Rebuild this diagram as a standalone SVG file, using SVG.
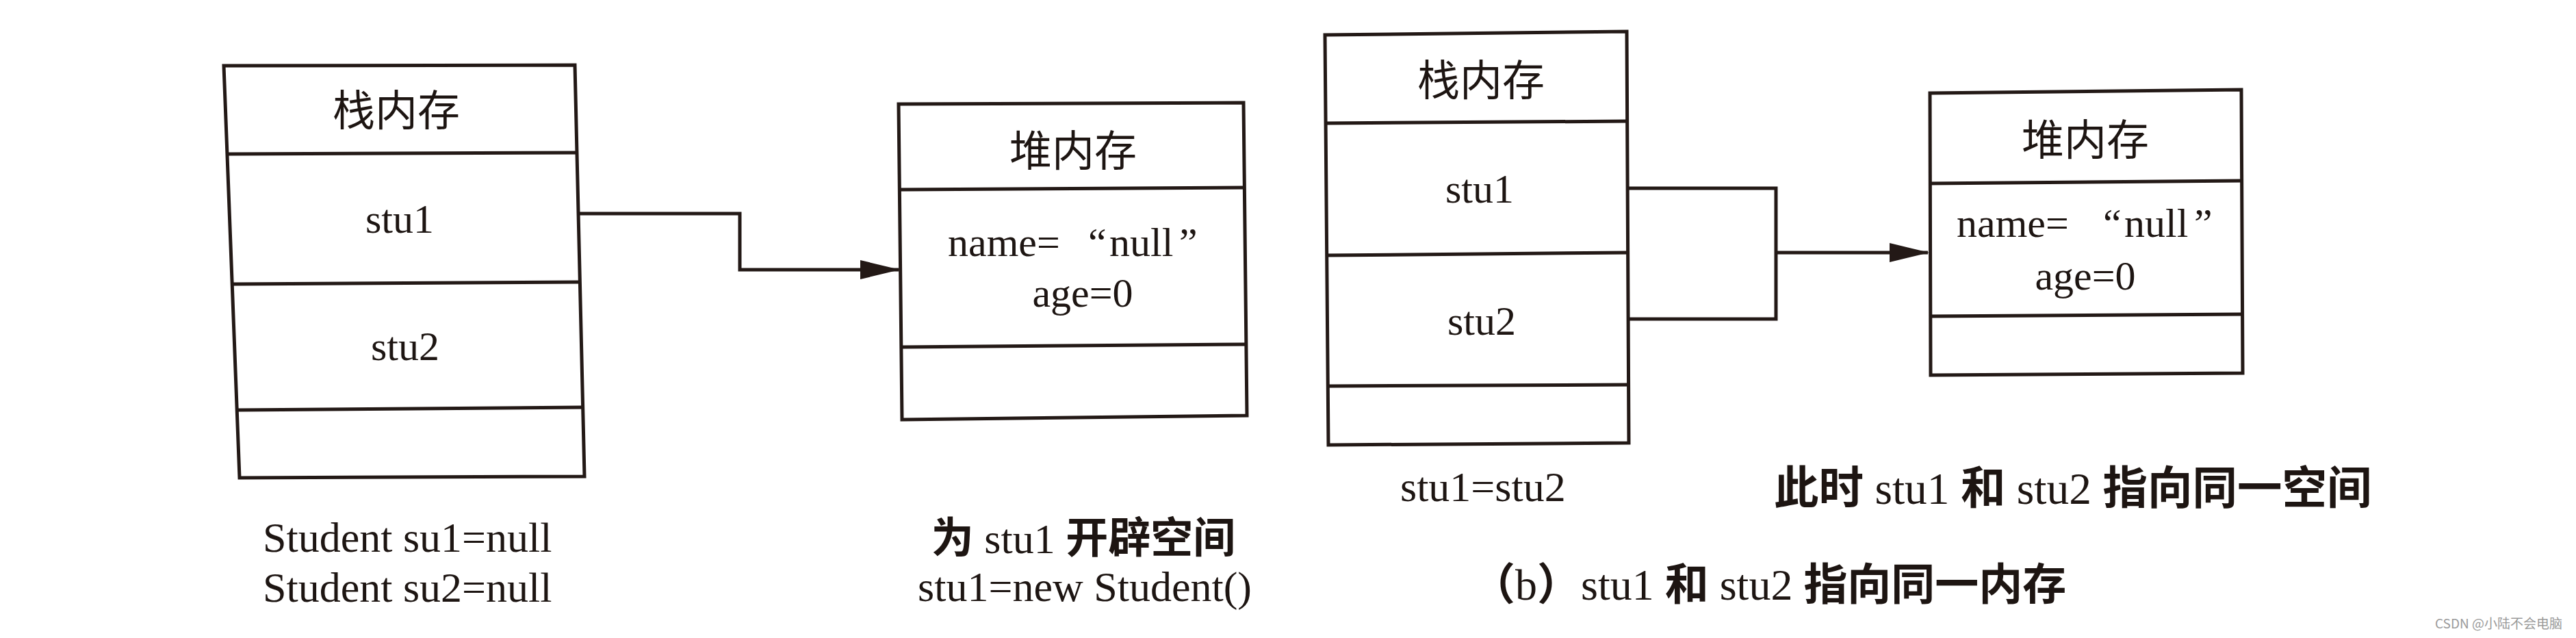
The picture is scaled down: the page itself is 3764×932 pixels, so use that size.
<svg xmlns="http://www.w3.org/2000/svg" width="3764" height="932" viewBox="0 0 3764 932">
<style>
.box{fill:#ffffff;stroke:#231916;stroke-width:5;stroke-linejoin:miter}
.dv{stroke:#231916;stroke-width:5;fill:none}
.conn{fill:none;stroke:#231916;stroke-width:5}
.ttl{font-family:"Noto Sans CJK SC",sans-serif;font-size:62px;fill:#1d1512;text-anchor:middle}
.lat{font-family:"Liberation Serif","Noto Sans CJK SC",serif;font-size:60px;fill:#1d1512}
.mid{text-anchor:middle}
.cap{font-family:"Liberation Serif","Noto Sans CJK SC",serif;font-size:62px;fill:#1d1512}
.b{font-family:"Noto Sans CJK SC",sans-serif;font-weight:700}
.wm{font-family:"Noto Sans CJK SC",sans-serif;font-size:19px;fill:#9a9a9a}
</style>
<defs>
<marker id="arr" markerUnits="userSpaceOnUse" markerWidth="58" markerHeight="28" refX="56" refY="14" orient="auto">
<path d="M0,0 L58,14 L0,28 Z" fill="#231916"/>
</marker>
</defs>
<rect x="0" y="0" width="3764" height="932" fill="#ffffff"/>

<g id="stack1">
<polygon class="box" points="327,96 840,95 854,696 350,698"/>
<line class="dv" x1="332" y1="225" x2="843" y2="223"/>
<line class="dv" x1="339" y1="415" x2="848" y2="412"/>
<line class="dv" x1="346" y1="599" x2="852" y2="595"/>
<text class="ttl" x="579" y="184">栈内存</text>
<text class="lat mid" x="584" y="340">stu1</text>
<text class="lat mid" x="592" y="526">stu2</text>
</g>

<g id="heap1">
<polygon class="box" points="1313,152 1817,150 1822,607 1318,613"/>
<line class="dv" x1="1314" y1="277" x2="1818" y2="274"/>
<line class="dv" x1="1317" y1="507" x2="1821" y2="503"/>
<text class="ttl" x="1568" y="243">堆内存</text>
<text class="lat" y="374"><tspan x="1385">name=</tspan><tspan x="1590">“</tspan><tspan x="1621">null</tspan><tspan x="1723">”</tspan></text>
<text class="lat mid" x="1582" y="448">age=0</text>
</g>

<g id="stack2">
<polygon class="box" points="1936,51 2377,46 2380,647 1941,650"/>
<line class="dv" x1="1937" y1="180" x2="2378" y2="177"/>
<line class="dv" x1="1939" y1="373" x2="2379" y2="369"/>
<line class="dv" x1="1940" y1="564" x2="2380" y2="562"/>
<text class="ttl" x="2164" y="140">栈内存</text>
<text class="lat mid" x="2162" y="296">stu1</text>
<text class="lat mid" x="2165" y="489">stu2</text>
</g>

<g id="heap2">
<polygon class="box" points="2820,136 3275,131 3277,545 2821,548"/>
<line class="dv" x1="2820" y1="268" x2="3276" y2="264"/>
<line class="dv" x1="2821" y1="462" x2="3277" y2="459"/>
<text class="ttl" x="3047" y="227">堆内存</text>
<text class="lat" y="346"><tspan x="2859">name=</tspan><tspan x="3073">“</tspan><tspan x="3104">null</tspan><tspan x="3206">”</tspan></text>
<text class="lat mid" x="3047" y="423">age=0</text>
</g>

<g id="connectors">
<path class="conn" d="M845,312 H1081 V394 H1313" marker-end="url(#arr)"/>
<path class="conn" d="M2378,275 H2595 V466 H2380"/>
<path class="conn" d="M2595,369 H2817" marker-end="url(#arr)"/>
</g>

<g id="captions">
<text class="cap" x="384" y="806">Student su1=null</text>
<text class="cap" x="384" y="879">Student su2=null</text>
<text class="cap mid" x="1583" y="808"><tspan class="b">为</tspan> stu1 <tspan class="b">开辟空间</tspan></text>
<text class="cap mid" x="1585" y="878">stu1=new Student()</text>
<text class="cap" x="2046" y="732">stu1=stu2</text>
<text class="cap" x="2592" y="736" style="font-size:65.5px"><tspan class="b">此时</tspan> stu1 <tspan class="b">和</tspan> stu2 <tspan class="b">指向同一空间</tspan></text>
<text class="cap" x="2150" y="876" style="font-size:64px"><tspan class="b">（</tspan>b<tspan class="b">）</tspan>stu1 <tspan class="b">和</tspan> stu2 <tspan class="b">指向同一内存</tspan></text>
<text class="wm" x="3558" y="918">CSDN @小陆不会电脑</text>
</g>
</svg>
